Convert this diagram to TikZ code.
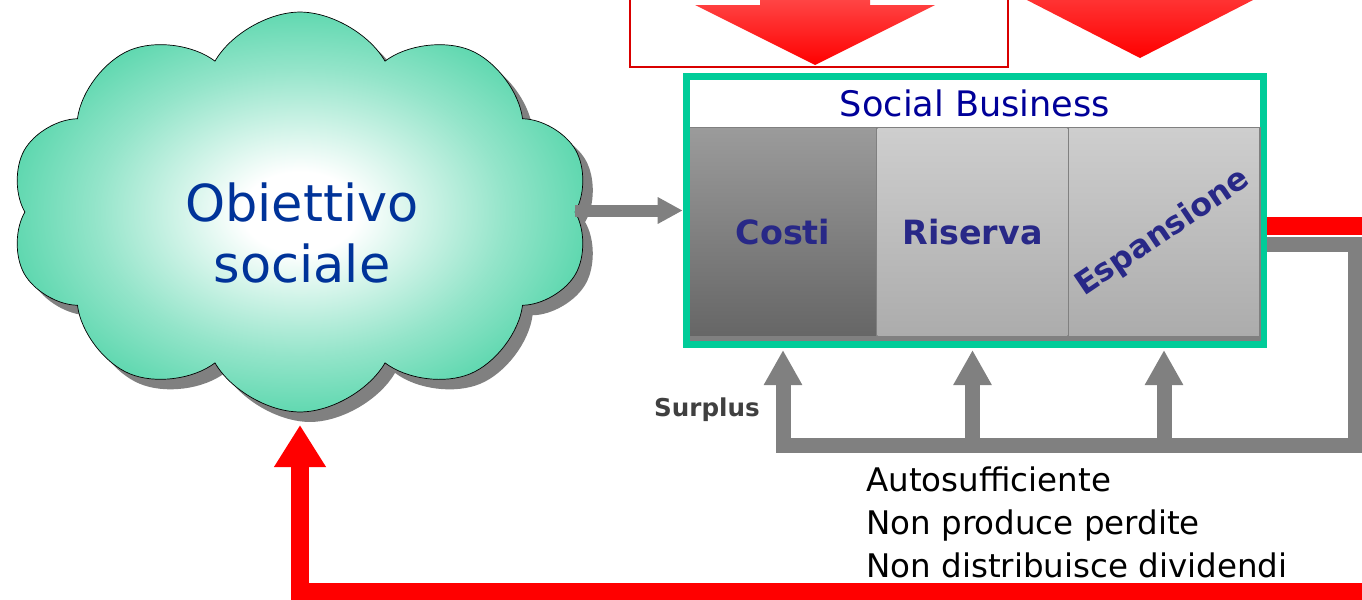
\documentclass[tikz,border=0pt]{standalone}
\usepackage{fontspec}
\setmainfont{DejaVu Sans}
\usetikzlibrary{shapes.symbols,shadows,arrows.meta}

\definecolor{sbgreen}{RGB}{0,204,153}
\definecolor{cloudgreen}{RGB}{40,202,148}
\definecolor{flowgray}{RGB}{128,128,128}
\definecolor{cloudtext}{RGB}{0,51,153}
\definecolor{titleblue}{RGB}{0,0,153}
\definecolor{celltext}{RGB}{40,40,135}
\definecolor{darkcell}{RGB}{155,155,155}
\definecolor{darkcellb}{RGB}{102,102,102}
\definecolor{lightcell}{RGB}{206,206,206}
\definecolor{lightcellb}{RGB}{172,172,172}

\pgfdeclareradialshading{cloudshade}{\pgfpoint{0bp}{0bp}}{%
	color(0bp)=(white); color(5bp)=(white);
	color(18bp)=(cloudgreen!50!white); color(30bp)=(cloudgreen!90!white);
	color(36bp)=(cloudgreen); color(50bp)=(cloudgreen)}

\begin{document}
\begin{tikzpicture}[
	x=0.02cm,
	y=-0.02cm,
	line join=miter,
	flow/.style={draw=flowgray, line width=0.3cm, -{Triangle[length=0.7cm,width=0.72cm]}},
	feedback/.style={draw=red, line width=0.36cm, -{Triangle[length=0.84cm,width=0.98cm]}},
	cell/.style={rectangle, inner sep=0pt, minimum height=4.16cm, text=celltext, font=\bfseries\fontsize{19}{22}\selectfont}
	]
	\useasboundingbox (0,0) rectangle (1362,599);
	\clip (0,0) rectangle (1362,599);

	% incoming arrows at the top
	\draw[draw=red!85!black, line width=0.03cm] (630,-10) rectangle (1008,67);
	\shade[top color=red!65!white, bottom color=red] (760,-20) -- (870,-20) -- (870,5) -- (935,5) -- (815,65) -- (695,5) -- (760,5) -- cycle;
	\shade[top color=red!70!white, bottom color=red] (1085,-30) -- (1195,-30) -- (1195,-2) -- (1257,-2) -- (1140,58) -- (1023,-2) -- (1085,-2) -- cycle;

	% the social goal
	\node[cloud, cloud puffs=10, cloud puff arc=120, cloud ignores aspect, minimum width=11.6cm, minimum height=8cm,
		draw=black, shading=cloudshade,
		drop shadow={shadow xshift=0.2cm, shadow yshift=-0.2cm, opacity=1, fill=flowgray}] (obiettivo) at (300,212) {};
	\node[align=center, text=cloudtext, font=\fontsize{29}{35}\selectfont] (obtext) at (302,233) {Obiettivo\\sociale};

	% the social business
	\node[rectangle, fill=sbgreen, inner sep=0pt, minimum width=11.68cm, minimum height=5.5cm] (sbframe) at (975,210.5) {};
	\fill[flowgray] (690,127) rectangle (1261,341);
	\node[rectangle, fill=white, inner sep=0pt, minimum width=11.4cm, minimum height=0.94cm, text=titleblue, font=\fontsize{20}{24}\selectfont] (sbtitle) at (975,103.5) {Social Business};
	\node[cell, minimum width=3.72cm, top color=darkcell, bottom color=darkcellb] (costi) at (783,232) {Costi};
	\node[cell, minimum width=3.8cm, top color=lightcell, bottom color=lightcellb] (riserva) at (972.5,232) {Riserva};
	\node[cell, minimum width=3.8cm, top color=lightcell, bottom color=lightcellb] (espansione) at (1164,232) {};
	\node[text=celltext, font=\bfseries\fontsize{18}{22}\selectfont, rotate=34] (esptext) at (1163,233) {Espansione};

	% flows
	\draw[flow, line width=0.24cm, -{Triangle[length=0.5cm,width=0.5cm]}] (obiettivo.east |- sbframe.west) -- (sbframe.west);
	\draw[feedback] (sbframe.east |- 0,226) -- (1385,226) -- (1385,592) -- (obiettivo.south |- 0,592) -- (obiettivo.south |- 0,425);
	\draw[flow] (sbframe.east |- 0,244) -- (1355,244) -- (1355,445) -- (costi.south |- 0,445) -- (costi.south |- 0,350);
	\foreach \c in {riserva,espansione}
		\draw[flow] (\c.south |- 0,445) -- (\c.south |- 0,350);

	\node[text=black!75, font=\bfseries\fontsize{14}{16}\selectfont] (surplus) at (707,410) {Surplus};
	\node[anchor=base west, align=left, inner sep=0pt, font=\fontsize{18.5}{24.4}\selectfont] (notes) at (866,577) {Autosufficiente\\Non produce perdite\\Non distribuisce dividendi};
\end{tikzpicture}
\end{document}
